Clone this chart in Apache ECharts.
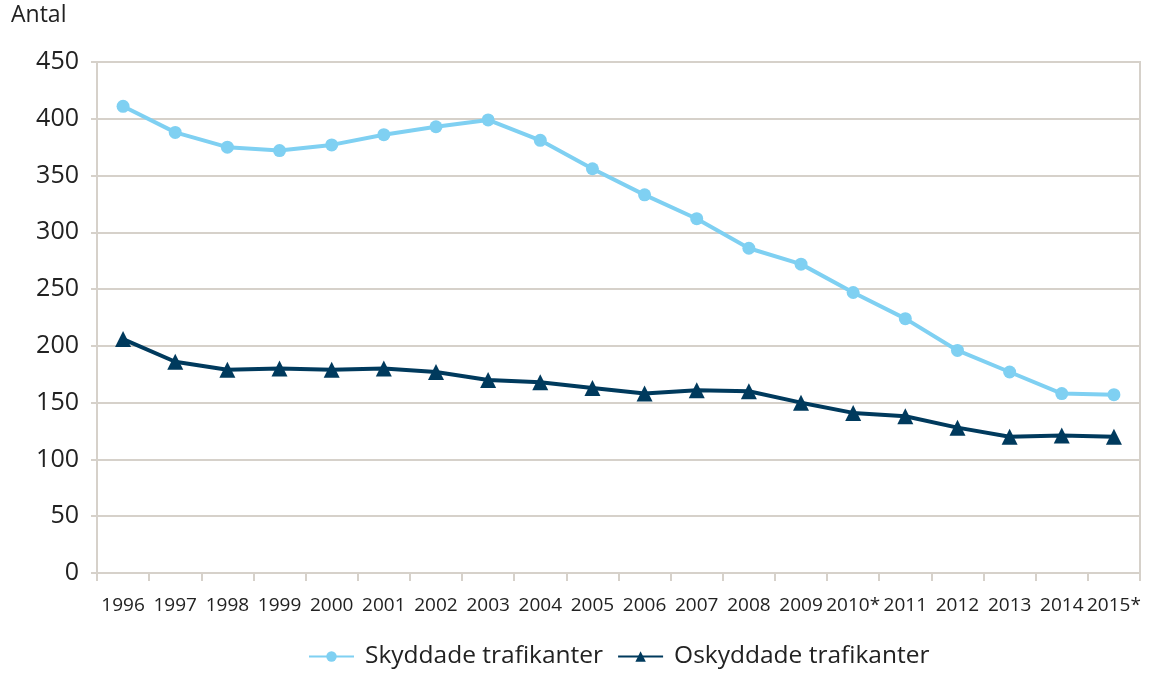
<!DOCTYPE html>
<html>
<head>
<meta charset="utf-8">
<script src="https://cdn.jsdelivr.net/npm/echarts@6/dist/echarts.min.js"></script>
<style>
html,body{margin:0;padding:0;background:#fff;}
#chart{width:1151px;height:674px;}
</style>
</head>
<body>
<div id="chart"></div>
<script>
const categories = ['1996','1997','1998','1999','2000','2001','2002','2003','2004','2005','2006','2007','2008','2009','2010*','2011','2012','2013','2014','2015*'];
const skyddade = [411,388,375,372,377,386,393,399,381,356,333,312,286,272,247,224,196,177,158,157];
const oskyddade = [206,186,179,180,179,180,177,170,168,163,158,161,160,150,141,138,128,120,121,120];
const yTicks = [0,50,100,150,200,250,300,350,400,450];

const FONT = 'Open Sans';
const gridColor = '#d6d1ca';
const chart = echarts.init(document.getElementById('chart'));
chart.setOption({
  backgroundColor: '#fff',
  textStyle: { fontFamily: FONT },
  graphic: [{
    type: 'text', left: 11, top: 4,
    style: { text: 'Antal', fontFamily: FONT, fontSize: 23, fill: '#222' }
  }],
  grid: { left: 97, right: 11, top: 62, bottom: 101, show: true, borderColor: gridColor, borderWidth: 2 },
  legend: {
    bottom: 0, left: 303,
    itemWidth: 45, itemHeight: 13, itemGap: 14,
    textStyle: { fontFamily: FONT, fontSize: 24.5, color: '#222', padding: [0, 0, 0, 6] },
    data: ['Skyddade trafikanter', 'Oskyddade trafikanter']
  },
  xAxis: {
    type: 'category', data: categories, boundaryGap: true,
    axisLine: { lineStyle: { color: gridColor, width: 2 } },
    axisTick: { show: true, length: 8, lineStyle: { color: gridColor, width: 2 }, interval: 0 },
    axisLabel: { interval: 0, fontFamily: FONT, fontSize: 19, color: '#222', margin: 23 },
    splitLine: { show: false }
  },
  yAxis: {
    type: 'value', min: 0, max: 450, interval: 50,
    axisLine: { show: true, lineStyle: { color: gridColor, width: 2 } },
    axisTick: { show: true, length: 6, lineStyle: { color: gridColor, width: 2 } },
    axisLabel: { fontFamily: FONT, fontSize: 25, color: '#222', margin: 18,
      formatter: v => yTicks.includes(v) ? String(v) : '' },
    splitLine: { lineStyle: { color: gridColor, width: 2 } }
  },
  series: [
    {
      name: 'Skyddade trafikanter', type: 'line', data: skyddade,
      symbol: 'circle', symbolSize: 13,
      lineStyle: { color: '#7fd0f2', width: 4 },
      itemStyle: { color: '#7fd0f2' }
    },
    {
      name: 'Oskyddade trafikanter', type: 'line', data: oskyddade,
      symbol: 'triangle', symbolSize: 16,
      lineStyle: { color: '#003a5d', width: 4 },
      itemStyle: { color: '#003a5d' }
    }
  ]
});
</script>
</body>
</html>
